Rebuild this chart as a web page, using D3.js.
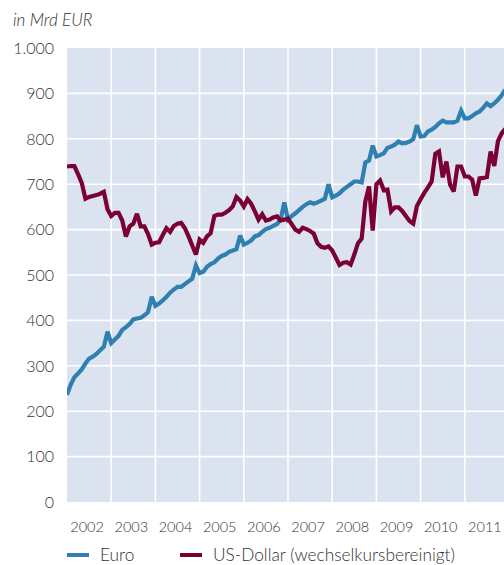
<!DOCTYPE html>
<html><head><meta charset="utf-8">
<script src="https://cdn.jsdelivr.net/npm/d3@7"></script>
<style>
body{margin:0;background:#fff;}
text{font-family:Lato,"Open Sans",sans-serif;fill:#333;}
</style></head>
<body><svg id="c" width="504" height="565"></svg>
<script>
// Monthly values from Jan 2002 (index 0)
const years = ["2002","2003","2004","2005","2006","2007","2008","2009","2010","2011"];
const yTicks = [0,100,200,300,400,500,600,700,800,900,1000];
const seriesNames = ["Euro","US-Dollar (wechselkursbereinigt)"];
const euro = [236,258,275,283,292,305,316,320,326,334,342,375,
350,358,366,379,385,392,402,404,406,411,418,452,
432,437,444,452,461,468,474,474,480,486,492,521,
504,507,518,524,528,536,542,545,551,554,557,587,
567,571,576,585,588,595,601,604,608,612,622,660,
622,630,636,643,650,656,660,657,660,664,668,700,
671,675,680,688,694,700,706,706,704,748,752,785,
761,764,768,780,783,787,794,790,791,794,799,830,
805,806,816,820,826,834,840,836,836,836,840,862,
845,845,850,856,860,868,878,872,878,886,896,908];
const usd = [739,740,740,722,703,668,672,674,676,679,683,645,
630,637,637,620,585,607,613,635,607,607,590,567,
571,572,588,603,595,608,613,615,603,585,565,545,
578,571,585,592,630,633,633,637,643,651,672,664,
651,667,657,640,622,634,620,622,627,629,620,622,
624,612,600,595,604,601,597,591,570,562,560,563,
554,538,522,527,528,523,545,570,580,662,695,598,
700,708,687,688,640,649,649,641,630,619,613,652,
667,681,693,706,767,772,715,750,699,684,739,739,
717,717,710,675,713,714,716,772,740,795,812,822];
const colors = ["#2f7fb1","#7b0034"];

const svg = d3.select("#c");
const L = 67, R = 504, T = 48, B = 502;
const yearW = 44.2;
const x = d3.scaleLinear().domain([0,12]).range([L, L+yearW]);
const y = d3.scaleLinear().domain([0,1000]).range([B,T]);

svg.append("defs").append("clipPath").attr("id","clip")
  .append("rect").attr("x",L).attr("y",T).attr("width",R-L).attr("height",B-T);

svg.append("rect").attr("x",L).attr("y",T).attr("width",R-L).attr("height",B-T).attr("fill","#dae3ef");

const g = svg.append("g").attr("clip-path","url(#clip)");
g.selectAll(".hg").data(yTicks.filter(d=>d>0 && d<1000)).join("line")
  .attr("x1",L).attr("x2",R).attr("y1",d=>y(d)).attr("y2",d=>y(d))
  .attr("stroke","#fff").attr("stroke-width",1.6);
g.selectAll(".vg").data(d3.range(1,years.length+1)).join("line")
  .attr("x1",d=>x(d*12)).attr("x2",d=>x(d*12)).attr("y1",T).attr("y2",B)
  .attr("stroke","#fff").attr("stroke-width",1.6);

const line = d3.line().x((d,i)=>x(i)).y(d=>y(d));
[euro,usd].forEach((s,k)=>{
  g.append("path").datum(s).attr("d",line).attr("fill","none")
   .attr("stroke",colors[k]).attr("stroke-width",4.2).attr("stroke-linejoin","miter").attr("stroke-miterlimit",3);
});

const fmt = d => d3.format(",")(d).replace(",",".");
svg.selectAll(".yl").data(yTicks).join("text")
  .attr("x",54).attr("y",d=>y(d)).attr("dy","0.36em").attr("text-anchor","end")
  .attr("font-size",16).attr("font-weight",300).text(fmt);

svg.selectAll(".xl").data(years).join("text")
  .attr("x",(d,i)=>x(i*12+6)-2).attr("y",532).attr("text-anchor","middle")
  .attr("font-size",14.5).attr("font-weight",300).text(d=>d);

svg.append("text").attr("x",13).attr("y",26).attr("font-size",17)
  .attr("font-style","italic").attr("font-weight",300).text("in Mrd EUR");

const lx = [67,180];
seriesNames.forEach((n,k)=>{
  svg.append("line").attr("x1",lx[k]).attr("x2",lx[k]+22).attr("y1",555).attr("y2",555)
    .attr("stroke",colors[k]).attr("stroke-width",4);
  svg.append("text").attr("x",lx[k]+33).attr("y",561).attr("font-size",17.3)
    .attr("font-weight",300).text(n);
});
</script></body></html>
